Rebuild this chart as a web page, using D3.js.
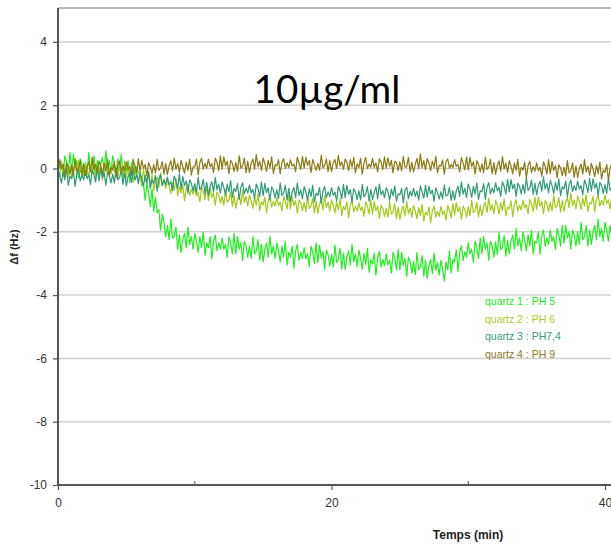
<!DOCTYPE html>
<html><head><meta charset="utf-8">
<script src="https://cdn.jsdelivr.net/npm/d3@7"></script>
<style>html,body{margin:0;padding:0;background:#fff;overflow:hidden}</style>
</head><body>
<svg id="c" width="611" height="548"></svg>
<script>
const sampleStep = 0.125; // minutes between samples
const seriesNames = ["quartz 1 : PH 5", "quartz 2 : PH 6", "quartz 3 : PH7,4", "quartz 4 : PH 9"];
const seriesColors = ["#1ef01e", "#a4c81c", "#2f9a78", "#8a7a10"];
const legendColors = ["#22e822", "#a8cc30", "#3c9a80", "#8a7a28"];
const yTicks = [4, 2, 0, -2, -4, -6, -8, -10];
const xTicks = [0, 20, 40];
const xMinorTicks = [10, 30];

const quartz1 = [
0.35,0.00,0.15,-0.25,0.40,0.20,-0.15,0.50,
-0.10,0.45,0.05,0.25,-0.30,0.30,0.15,-0.20,
0.20,-0.20,0.50,-0.05,0.05,0.40,-0.25,0.25,
-0.25,0.15,0.35,-0.10,0.55,0.00,0.25,-0.15,
0.40,0.15,-0.20,0.30,-0.05,0.45,-0.30,0.10,
-0.10,0.25,-0.45,0.10,0.30,-0.20,0.05,-0.15,
-0.10,-0.55,-0.50,-1.00,-0.45,-0.75,-1.20,-0.65,
-1.35,-0.90,-1.40,-1.30,-1.95,-1.45,-1.70,-2.15,
-1.80,-2.25,-1.60,-2.20,-2.15,-1.85,-2.55,-2.10,
-2.65,-2.25,-2.05,-2.50,-1.85,-2.40,-2.15,-2.55,
-2.05,-2.30,-2.65,-2.15,-2.50,-2.00,-2.75,-2.35,
-2.50,-2.15,-2.85,-2.30,-2.10,-2.60,-2.35,-2.55,
-2.20,-2.55,-2.40,-2.80,-2.15,-2.35,-2.70,-2.05,
-2.70,-2.15,-2.55,-2.35,-2.90,-2.30,-2.45,-2.80,
-2.45,-2.85,-2.15,-2.70,-2.60,-2.25,-2.90,-2.40,
-2.95,-2.55,-2.35,-2.80,-2.15,-2.70,-2.45,-2.85,
-2.35,-2.60,-2.95,-2.45,-2.80,-2.30,-3.05,-2.65,
-2.80,-2.45,-3.15,-2.60,-2.40,-2.90,-2.65,-2.85,
-2.50,-2.85,-2.70,-3.10,-2.45,-2.65,-3.00,-2.35,
-2.98,-2.43,-2.83,-2.63,-3.18,-2.58,-2.73,-3.08,
-2.72,-3.12,-2.42,-2.97,-2.87,-2.52,-3.17,-2.67,
-3.20,-2.80,-2.60,-3.05,-2.40,-2.95,-2.70,-3.10,
-2.58,-2.83,-3.18,-2.68,-3.03,-2.53,-3.28,-2.88,
-3.02,-2.67,-3.37,-2.82,-2.62,-3.12,-2.87,-3.07,
-2.70,-3.05,-2.90,-3.30,-2.65,-2.85,-3.20,-2.55,
-3.20,-2.65,-3.05,-2.85,-3.40,-2.80,-2.95,-3.30,
-2.95,-3.35,-2.65,-3.20,-3.10,-2.75,-3.40,-2.90,
-3.47,-3.07,-2.87,-3.32,-2.67,-3.22,-2.97,-3.37,
-2.90,-3.17,-3.55,-2.95,-3.20,-2.60,-3.30,-2.88,
-2.95,-2.57,-3.25,-2.67,-2.44,-2.91,-2.63,-2.80,
-2.35,-2.70,-2.55,-2.95,-2.30,-2.50,-2.85,-2.20,
-2.70,-2.15,-2.55,-2.35,-2.90,-2.30,-2.45,-2.80,
-2.32,-2.72,-2.02,-2.57,-2.47,-2.12,-2.77,-2.27,
-2.70,-2.30,-2.10,-2.55,-1.90,-2.45,-2.20,-2.60,
-2.00,-2.25,-2.60,-2.10,-2.45,-1.95,-2.70,-2.30,
-2.35,-2.00,-2.70,-2.15,-1.95,-2.45,-2.20,-2.40,
-1.95,-2.30,-2.15,-2.55,-1.90,-2.10,-2.45,-1.80,
-2.35,-1.80,-2.20,-2.00,-2.55,-1.95,-2.10,-2.45,
-2.00,-2.40,-1.70,-2.25,-2.15,-1.80,-2.45,-1.95,
-2.40,-2.00,-1.80,-2.25,-1.60,-2.15,-1.90,-2.30,
-1.70,-1.95,-2.30,-1.80,-2.15];

const quartz2 = [
0.02,-0.26,0.23,-0.16,-0.09,0.16,-0.30,0.06,
-0.30,-0.01,0.13,-0.19,0.27,-0.12,0.06,-0.23,
0.16,-0.01,-0.26,0.09,-0.16,0.20,-0.33,-0.05,
-0.12,0.13,-0.37,0.02,0.16,-0.19,-0.01,-0.16,
0.13,-0.12,-0.01,-0.30,0.16,0.02,-0.23,0.23,
-0.29,0.10,-0.19,-0.04,-0.43,-0.01,-0.11,-0.36,
-0.23,-0.51,-0.02,-0.41,-0.34,-0.09,-0.55,-0.19,
-0.70,-0.41,-0.27,-0.59,-0.13,-0.52,-0.34,-0.63,
-0.37,-0.54,-0.79,-0.44,-0.69,-0.33,-0.86,-0.58,
-0.77,-0.52,-1.02,-0.63,-0.49,-0.84,-0.66,-0.81,
-0.62,-0.87,-0.76,-1.05,-0.59,-0.73,-0.98,-0.52,
-1.02,-0.63,-0.92,-0.77,-1.16,-0.74,-0.84,-1.09,
-0.88,-1.16,-0.67,-1.06,-0.99,-0.74,-1.20,-0.84,
-1.25,-0.96,-0.82,-1.14,-0.68,-1.07,-0.89,-1.18,
-0.84,-1.01,-1.26,-0.91,-1.16,-0.80,-1.33,-1.05,
-1.15,-0.90,-1.40,-1.01,-0.87,-1.22,-1.04,-1.19,
-0.92,-1.17,-1.06,-1.35,-0.89,-1.03,-1.28,-0.82,
-1.27,-0.88,-1.17,-1.02,-1.41,-0.99,-1.09,-1.34,
-1.08,-1.36,-0.87,-1.26,-1.19,-0.94,-1.40,-1.04,
-1.42,-1.13,-0.99,-1.31,-0.85,-1.24,-1.06,-1.35,
-0.99,-1.16,-1.41,-1.06,-1.31,-0.95,-1.48,-1.20,
-1.30,-1.05,-1.55,-1.16,-1.02,-1.37,-1.19,-1.34,
-1.08,-1.33,-1.22,-1.51,-1.05,-1.19,-1.44,-0.98,
-1.44,-1.05,-1.34,-1.19,-1.58,-1.16,-1.26,-1.51,
-1.26,-1.54,-1.05,-1.44,-1.37,-1.12,-1.58,-1.22,
-1.61,-1.32,-1.18,-1.50,-1.04,-1.43,-1.25,-1.54,
-1.17,-1.34,-1.59,-1.24,-1.49,-1.13,-1.66,-1.38,
-1.47,-1.22,-1.72,-1.33,-1.19,-1.54,-1.36,-1.51,
-1.20,-1.45,-1.34,-1.63,-1.17,-1.31,-1.56,-1.10,
-1.47,-1.08,-1.37,-1.22,-1.61,-1.19,-1.29,-1.54,
-1.21,-1.49,-1.00,-1.39,-1.32,-1.07,-1.53,-1.17,
-1.50,-1.21,-1.07,-1.39,-0.93,-1.32,-1.14,-1.43,
-1.01,-1.18,-1.43,-1.08,-1.33,-0.97,-1.50,-1.22,
-1.27,-1.02,-1.52,-1.13,-0.99,-1.34,-1.16,-1.31,
-1.00,-1.25,-1.14,-1.43,-0.97,-1.11,-1.36,-0.90,
-1.29,-0.90,-1.19,-1.04,-1.43,-1.01,-1.11,-1.36,
-1.06,-1.34,-0.85,-1.24,-1.17,-0.92,-1.38,-1.02,
-1.35,-1.06,-0.92,-1.24,-0.78,-1.17,-0.99,-1.28,
-0.87,-1.04,-1.29,-0.94,-1.19,-0.83,-1.36,-1.08,
-1.12,-0.87,-1.37,-0.98,-0.84,-1.19,-1.01,-1.16,
-0.85,-1.10,-0.99,-1.28,-0.82];

const quartz3 = [
-0.04,-0.21,-0.46,-0.11,-0.36,0.00,-0.53,-0.25,
-0.32,-0.07,-0.57,-0.18,-0.04,-0.39,-0.21,-0.36,
-0.07,-0.32,-0.21,-0.50,-0.04,-0.18,-0.43,0.03,
-0.39,0.00,-0.29,-0.14,-0.53,-0.11,-0.21,-0.46,
-0.18,-0.46,0.03,-0.36,-0.29,-0.04,-0.50,-0.14,
-0.55,-0.26,-0.12,-0.44,0.02,-0.37,-0.19,-0.48,
-0.14,-0.31,-0.56,-0.21,-0.46,-0.10,-0.63,-0.35,
-0.47,-0.22,-0.72,-0.33,-0.19,-0.54,-0.36,-0.51,
-0.27,-0.52,-0.41,-0.70,-0.24,-0.38,-0.63,-0.17,
-0.64,-0.25,-0.54,-0.39,-0.78,-0.36,-0.46,-0.71,
-0.48,-0.76,-0.27,-0.66,-0.59,-0.34,-0.80,-0.44,
-0.85,-0.56,-0.42,-0.74,-0.28,-0.67,-0.49,-0.78,
-0.42,-0.59,-0.84,-0.49,-0.74,-0.38,-0.91,-0.63,
-0.73,-0.48,-0.98,-0.59,-0.45,-0.80,-0.62,-0.77,
-0.52,-0.77,-0.66,-0.95,-0.49,-0.63,-0.88,-0.42,
-0.86,-0.47,-0.76,-0.61,-1.00,-0.58,-0.68,-0.93,
-0.67,-0.95,-0.46,-0.85,-0.78,-0.53,-0.99,-0.63,
-1.03,-0.74,-0.60,-0.92,-0.46,-0.85,-0.67,-0.96,
-0.57,-0.74,-0.99,-0.64,-0.89,-0.53,-1.06,-0.78,
-0.85,-0.60,-1.10,-0.71,-0.57,-0.92,-0.74,-0.89,
-0.60,-0.85,-0.74,-1.03,-0.57,-0.71,-0.96,-0.50,
-0.92,-0.53,-0.82,-0.67,-1.06,-0.64,-0.74,-0.99,
-0.71,-0.99,-0.50,-0.89,-0.82,-0.57,-1.03,-0.67,
-0.98,-0.76,-0.58,-0.95,-0.49,-0.83,-0.70,-0.92,
-0.61,-0.72,-1.01,-0.66,-0.86,-0.55,-1.04,-0.80,
-0.83,-0.63,-1.08,-0.69,-0.59,-0.95,-0.72,-0.87,
-0.62,-0.88,-0.71,-1.00,-0.55,-0.74,-0.94,-0.53,
-0.90,-0.56,-0.80,-0.69,-1.04,-0.61,-0.77,-0.97,
-0.73,-0.96,-0.52,-0.87,-0.84,-0.59,-1.01,-0.70,
-0.99,-0.70,-0.56,-0.88,-0.42,-0.81,-0.63,-0.92,
-0.49,-0.66,-0.91,-0.56,-0.81,-0.45,-0.98,-0.70,
-0.73,-0.48,-0.98,-0.59,-0.45,-0.80,-0.62,-0.77,
-0.45,-0.70,-0.59,-0.88,-0.42,-0.56,-0.81,-0.35,
-0.74,-0.35,-0.64,-0.49,-0.88,-0.46,-0.56,-0.81,
-0.51,-0.79,-0.30,-0.69,-0.62,-0.37,-0.83,-0.47,
-0.83,-0.54,-0.40,-0.72,-0.26,-0.65,-0.47,-0.76,
-0.37,-0.54,-0.79,-0.44,-0.69,-0.33,-0.86,-0.58,
-0.65,-0.40,-0.90,-0.51,-0.37,-0.72,-0.54,-0.69,
-0.40,-0.65,-0.54,-0.83,-0.37,-0.51,-0.76,-0.30,
-0.72,-0.33,-0.62,-0.47,-0.86,-0.44,-0.54,-0.79,
-0.51,-0.79,-0.30,-0.69,-0.62];

const quartz4 = [
-0.11,0.28,-0.01,0.14,-0.25,0.17,0.07,-0.18,
0.10,-0.18,0.31,-0.08,-0.01,0.24,-0.22,0.14,
-0.22,0.07,0.21,-0.11,0.35,-0.04,0.14,-0.15,
0.24,0.07,-0.18,0.17,-0.08,0.28,-0.25,0.03,
-0.04,0.21,-0.29,0.10,0.24,-0.11,0.07,-0.08,
0.21,-0.04,0.07,-0.22,0.24,0.10,-0.15,0.31,
-0.09,0.26,0.01,0.12,-0.23,0.19,0.05,-0.16,
0.12,-0.15,0.29,-0.06,0.02,0.22,-0.19,0.16,
-0.19,0.09,0.24,-0.08,0.33,-0.02,0.16,-0.12,
0.26,0.05,-0.15,0.20,-0.06,0.30,-0.21,0.05,
0.05,0.30,-0.20,0.19,0.33,-0.02,0.16,0.01,
0.30,0.05,0.16,-0.13,0.33,0.19,-0.06,0.40,
-0.02,0.37,0.08,0.23,-0.16,0.26,0.16,-0.09,
0.19,-0.09,0.40,0.01,0.08,0.33,-0.13,0.23,
-0.13,0.16,0.30,-0.02,0.44,0.05,0.23,-0.06,
0.33,0.16,-0.09,0.26,0.01,0.37,-0.16,0.12,
0.08,0.28,-0.17,0.21,0.31,0.00,0.18,0.03,
0.27,0.08,0.14,-0.10,0.36,0.16,-0.03,0.38,
0.01,0.35,0.10,0.25,-0.13,0.28,0.13,-0.06,
0.16,-0.06,0.42,0.03,0.10,0.30,-0.10,0.26,
-0.10,0.19,0.28,0.00,0.41,0.08,0.21,-0.03,
0.30,0.19,-0.06,0.28,0.04,0.35,-0.13,0.15,
0.03,0.32,-0.18,0.17,0.35,0.00,0.14,0.04,
0.32,0.03,0.18,-0.11,0.31,0.21,-0.04,0.37,
0.01,0.34,0.06,0.26,-0.14,0.23,0.18,-0.07,
0.21,-0.07,0.38,0.04,0.06,0.35,-0.11,0.20,
-0.11,0.13,0.32,0.00,0.46,0.03,0.25,-0.04,
0.31,0.18,-0.07,0.23,0.03,0.39,-0.14,0.10,
0.07,0.27,-0.18,0.22,0.30,0.01,0.13,0.03,
0.28,0.07,0.13,-0.11,0.35,0.17,-0.04,0.36,
-0.04,0.35,0.06,0.21,-0.18,0.24,0.14,-0.11,
0.15,-0.13,0.36,-0.03,0.04,0.29,-0.17,0.19,
-0.19,0.10,0.24,-0.08,0.38,-0.01,0.17,-0.12,
0.25,0.08,-0.17,0.18,-0.07,0.29,-0.24,0.04,
-0.05,0.20,-0.30,0.09,0.23,-0.12,0.06,-0.09,
0.18,-0.07,0.04,-0.25,0.21,0.07,-0.18,0.28,
-0.16,0.23,-0.06,0.09,-0.30,0.12,0.02,-0.23,
0.04,-0.24,0.25,-0.14,-0.07,0.18,-0.28,0.08,
-0.29,0.00,0.14,-0.18,0.28,-0.11,0.07,-0.22,
0.16,-0.01,-0.26,0.09,-0.16,0.20,-0.33,-0.05,
-0.12,0.13,-0.37,0.02,0.16];

const allSeries = [quartz1, quartz2, quartz3, quartz4];

const svg = d3.select("#c");
const pLeft = 58, pTop = 8, pBottom = 485, pRight = 640;
const x = d3.scaleLinear().domain([0, 40]).range([pLeft, 605]);
const y = d3.scaleLinear().domain([-10, 0]).range([pBottom, 168.5]);
const fmt = d => String(d);

// grid
svg.append("g").selectAll("line").data(yTicks.filter(v => v > -10)).join("line")
  .attr("x1", pLeft).attr("x2", pRight).attr("y1", d => y(d)).attr("y2", d => y(d))
  .attr("stroke", "#cfcfcf").attr("stroke-width", 1.5);
// top frame
svg.append("line").attr("x1", pLeft).attr("x2", pRight).attr("y1", pTop).attr("y2", pTop)
  .attr("stroke", "#777").attr("stroke-width", 1.2);

// y axis
const yAxis = d3.axisLeft(y).tickValues(yTicks).tickSize(5).tickPadding(6).tickFormat(fmt);
const gy = svg.append("g").attr("transform", `translate(${pLeft},0)`).call(yAxis);
gy.select(".domain").remove();
gy.append("line").attr("x1", 0).attr("x2", 0).attr("y1", pTop).attr("y2", pBottom).attr("stroke", "#555").attr("stroke-width", 2);
gy.selectAll(".tick line").attr("stroke", "#555").attr("stroke-width", 1.2);
gy.selectAll(".tick text").attr("fill", "#333").style("font-family", "Liberation Sans, Arial, sans-serif").style("font-size", "12px");

// x axis
const xAxis = d3.axisBottom(x).tickValues(xTicks).tickSize(5).tickPadding(8).tickFormat(fmt);
const gx = svg.append("g").attr("transform", `translate(0,${pBottom})`).call(xAxis);
gx.select(".domain").remove();
gx.append("line").attr("x1", pLeft).attr("x2", pRight).attr("y1", 0).attr("y2", 0).attr("stroke", "#555").attr("stroke-width", 2);
gx.selectAll(".tick line").attr("stroke", "#555").attr("stroke-width", 1.2);
gx.selectAll(".tick text").attr("fill", "#333").style("font-family", "Liberation Sans, Arial, sans-serif").style("font-size", "12px");
svg.append("g").selectAll("line").data(xMinorTicks).join("line")
  .attr("x1", d => x(d)).attr("x2", d => x(d)).attr("y1", pBottom).attr("y2", pBottom - 4)
  .attr("stroke", "#555").attr("stroke-width", 1);

// series
svg.append("clipPath").attr("id", "clip").append("rect")
  .attr("x", pLeft + 1).attr("y", pTop).attr("width", pRight - pLeft).attr("height", pBottom - pTop);
const line = d3.line().x((d, i) => x(i * sampleStep)).y(d => y(d));
svg.append("g").attr("clip-path", "url(#clip)").selectAll("path").data(allSeries).join("path")
  .attr("d", line).attr("fill", "none")
  .attr("stroke", (d, i) => seriesColors[i]).attr("stroke-width", 1.2).attr("stroke-linejoin", "round");

// legend
svg.append("g").selectAll("text").data(seriesNames).join("text")
  .attr("x", 485).attr("y", (d, i) => 305 + i * 17.5)
  .attr("fill", (d, i) => legendColors[i])
  .style("font-family", "Liberation Sans, Arial, sans-serif").style("font-size", "10.5px")
  .text(d => d);

// title
svg.append("text").attr("x", 327).attr("y", 103).attr("text-anchor", "middle")
  .style("font-family", "Lato, 'Open Sans', sans-serif").style("font-size", "38.5px").attr("fill", "#000")
  .text("10µg/ml");

// axis titles
svg.append("text").attr("transform", "translate(18,247) rotate(-90)").attr("text-anchor", "middle")
  .style("font-family", "Liberation Sans, Arial, sans-serif").style("font-size", "11px").style("font-weight", "bold")
  .attr("fill", "#222").text("Δf (Hz)");
svg.append("text").attr("x", 468).attr("y", 539).attr("text-anchor", "middle")
  .style("font-family", "Liberation Sans, Arial, sans-serif").style("font-size", "12px").style("font-weight", "bold")
  .attr("fill", "#222").text("Temps (min)");
</script>
</body></html>
